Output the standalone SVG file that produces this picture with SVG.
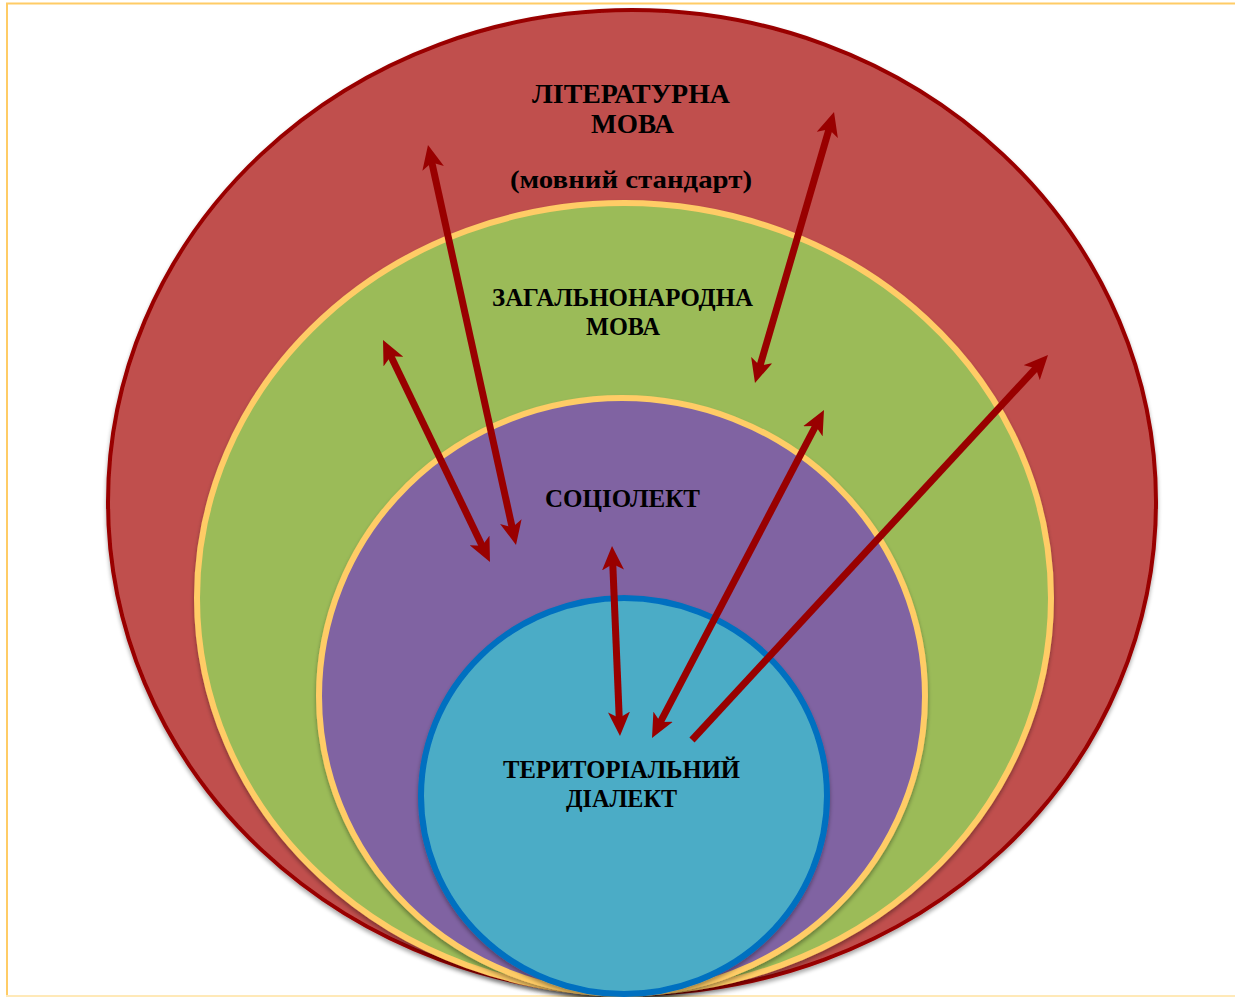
<svg xmlns="http://www.w3.org/2000/svg" width="1235" height="997" viewBox="0 0 1235 997">
  <defs>
    <style>
      .lbl { font-family: "Liberation Serif", "DejaVu Serif", serif; font-weight: bold; fill: #000; }
      .arrow { stroke: #990000; stroke-width: 7; fill: none; }
      .frame { stroke: #FFCC66; stroke-width: 2; fill: none; }
    </style>
    <marker id="head" markerUnits="userSpaceOnUse" markerWidth="24" markerHeight="22" viewBox="0 0 24 22" refX="10" refY="11" orient="auto-start-reverse">
      <path d="M0,0 L24,11 L0,22 L6,11 z" fill="#990000"/>
    </marker>
    <filter id="shadow" x="-10%" y="-10%" width="120%" height="120%">
      <feGaussianBlur in="SourceAlpha" stdDeviation="2"/>
      <feOffset dx="0" dy="3" result="b"/>
      <feComponentTransfer><feFuncA type="linear" slope="0.35"/></feComponentTransfer>
      <feMerge><feMergeNode/><feMergeNode in="SourceGraphic"/></feMerge>
    </filter>
  </defs>
  <rect x="0" y="0" width="1235" height="997" fill="#FFFFFF"/>
  <g id="frame">
    <line class="frame" x1="6" y1="3.5" x2="1235" y2="3.5" stroke="#FFD480"/>
    <line class="frame" x1="7" y1="3" x2="7" y2="997"/>
    <line x1="6" y1="996" x2="1235" y2="996" stroke="#FFE9B8" stroke-width="2"/>
  </g>
  <g id="literary" filter="url(#shadow)">
    <ellipse cx="632" cy="502" rx="524" ry="492" fill="#C0504D" stroke="#990000" stroke-width="4"/>
  </g>
  <g id="common" filter="url(#shadow)">
    <ellipse cx="624" cy="598" rx="427" ry="395" fill="#9BBB59" stroke="#FFCC66" stroke-width="6"/>
  </g>
  <g id="sociolect" filter="url(#shadow)">
    <ellipse cx="622" cy="696" rx="303" ry="298" fill="#8064A2" stroke="#FFCC66" stroke-width="6"/>
  </g>
  <g id="dialect" filter="url(#shadow)">
    <ellipse cx="624" cy="796" rx="203" ry="198" fill="#4BACC6" stroke="#0070C0" stroke-width="6"/>
  </g>
  <g id="labels">
    <text class="lbl" x="532" y="103" font-size="27" textLength="198" lengthAdjust="spacingAndGlyphs">ЛІТЕРАТУРНА</text>
    <text class="lbl" x="591" y="133" font-size="27" textLength="83" lengthAdjust="spacingAndGlyphs">МОВА</text>
    <text class="lbl" x="510" y="188" font-size="25" textLength="242" lengthAdjust="spacingAndGlyphs">(мовний стандарт)</text>
    <text class="lbl" x="492" y="306" font-size="25" textLength="261" lengthAdjust="spacingAndGlyphs">ЗАГАЛЬНОНАРОДНА</text>
    <text class="lbl" x="586" y="335" font-size="25" textLength="74" lengthAdjust="spacingAndGlyphs">МОВА</text>
    <text class="lbl" x="545" y="507" font-size="25" textLength="155" lengthAdjust="spacingAndGlyphs">СОЦІОЛЕКТ</text>
    <text class="lbl" x="503" y="778" font-size="25" textLength="237" lengthAdjust="spacingAndGlyphs">ТЕРИТОРІАЛЬНИЙ</text>
    <text class="lbl" x="566" y="807" font-size="25" textLength="111" lengthAdjust="spacingAndGlyphs">ДІАЛЕКТ</text>
  </g>
  <g id="connectors">
    <line class="arrow" x1="431" y1="158.7" x2="513" y2="531.3" marker-start="url(#head)" marker-end="url(#head)"/>
    <line class="arrow" x1="389.1" y1="352.6" x2="483.9" y2="549.4" marker-start="url(#head)" marker-end="url(#head)"/>
    <line class="arrow" x1="830.1" y1="125.4" x2="758.9" y2="369.6" marker-start="url(#head)" marker-end="url(#head)"/>
    <line class="arrow" x1="817.5" y1="422.4" x2="658.5" y2="725.6" marker-start="url(#head)" marker-end="url(#head)"/>
    <line class="arrow" x1="692" y1="740" x2="1038.5" y2="365.3" marker-end="url(#head)"/>
    <line class="arrow" x1="612.6" y1="560" x2="619.4" y2="722" marker-start="url(#head)" marker-end="url(#head)"/>
  </g>
</svg>
